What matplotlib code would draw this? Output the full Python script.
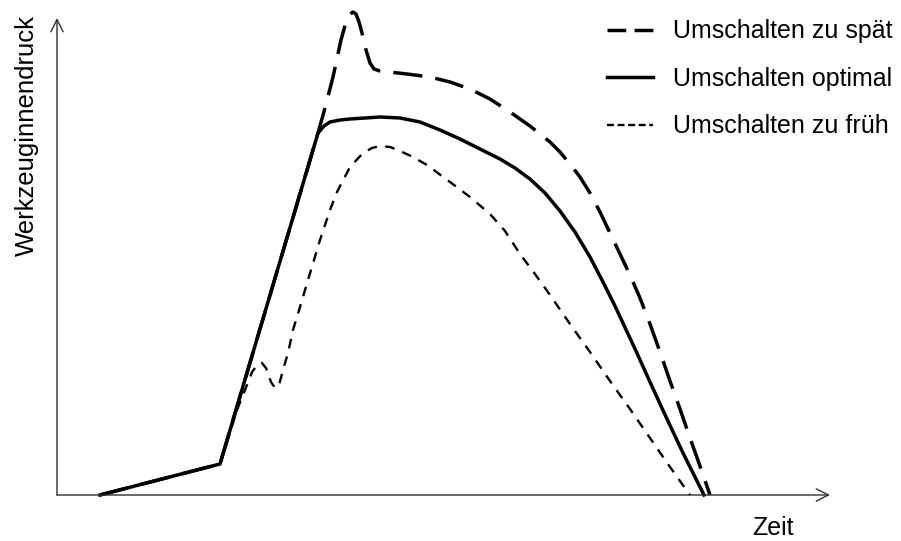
import matplotlib
matplotlib.use('Agg')
import matplotlib.pyplot as plt
from matplotlib.lines import Line2D

plt.rcParams['font.family'] = ['Liberation Sans', 'DejaVu Sans']
plt.rcParams['lines.scale_dashes'] = False

# pressure curves, arbitrary units (time, pressure) starting at the axis origin
t_spaet = [43, 163, 261, 268, 276, 284, 289, 293, 296, 299, 302, 305, 309, 313, 317, 323,
           350, 373, 393, 413, 433, 453, 473, 493, 503, 513, 523, 533, 543, 553, 563, 573,
           583, 593, 603, 613, 623, 633, 643, 653]
p_spaet = [0, 31, 362, 387, 418, 455, 473, 481, 483, 481, 473, 462, 445, 432, 426, 424,
           421, 418, 413, 406, 396, 383, 369, 353, 343, 331, 318, 302, 283, 262, 241, 220,
           197, 171, 143, 114, 86, 57, 29, 0]

t_optimal = [43, 163, 261, 267, 273, 283, 293, 308, 323, 343, 363, 383, 403, 423, 443, 458,
             473, 488, 503, 518, 533, 546, 558, 579, 593, 610, 626, 647]
p_optimal = [0, 31, 362, 369, 373, 375, 376, 377, 378, 377, 373, 365, 356, 346, 336, 327,
             316, 302, 284, 263, 238, 213, 189, 144, 113, 76, 42, 0]

t_frueh = [43, 163, 180, 188, 195, 201, 205, 209, 214, 218, 222, 226, 231, 236, 243, 251,
           263, 273, 280, 293, 306, 315, 323, 333, 343, 356, 370, 393, 413, 433, 448, 463,
           478, 493, 513, 533, 553, 573, 593, 613, 633]
p_frueh = [0, 31, 85, 105, 123, 131, 132, 127, 113, 107, 110, 125, 142, 165, 188, 215,
           255, 285, 303, 328, 342, 347, 349, 348, 344, 338, 330, 313, 298, 281, 264, 241,
           221, 200, 171, 143, 114, 86, 57, 28, 0]

labels = ['Umschalten zu spät', 'Umschalten optimal', 'Umschalten zu früh']

fig = plt.figure(figsize=(9.01, 5.41), dpi=100)
ax = fig.add_axes([0, 0, 1, 1])
ax.set_xlim(-57, 844)
ax.set_ylim(-46, 495)
ax.axis('off')

# axes with open arrow heads
arrow = dict(arrowstyle='->', color='#303030', lw=1.0, mutation_scale=22,
             shrinkA=0, shrinkB=0)
ax.annotate('', xy=(773, 0), xytext=(0, 0), arrowprops=arrow)
ax.annotate('', xy=(0, 477), xytext=(0, 0), arrowprops=arrow)

ax.plot(t_spaet, p_spaet, color='black', lw=2.5, dashes=(21, 9.5),
        dash_capstyle='butt')
ax.plot(t_optimal, p_optimal, color='black', lw=2.5)
ax.plot(t_frueh, p_frueh, color='black', lw=1.7, dashes=(7, 6),
        dash_capstyle='butt')

# legend samples use shorter dash patterns so they fit the handle length
handles = [
    Line2D([], [], color='black', lw=2.5, dashes=(13.5, 6), dash_capstyle='butt'),
    Line2D([], [], color='black', lw=2.5),
    Line2D([], [], color='black', lw=1.7, dashes=(5, 2.6), dash_capstyle='butt'),
]
ax.legend(handles, labels, loc='upper left', bbox_to_anchor=(607 / 901, 0.964),
          bbox_transform=fig.transFigure, frameon=False, fontsize=18,
          handlelength=1.84, handletextpad=0.8, labelspacing=0.94,
          borderpad=0, borderaxespad=0)

ax.text(716, -45, 'Zeit', fontsize=18, ha='center', va='bottom')
ax.text(-30, 359, 'Werkzeuginnendruck', fontsize=18.5, rotation=90,
        ha='center', va='center')

fig.savefig('out.png', dpi=100)
